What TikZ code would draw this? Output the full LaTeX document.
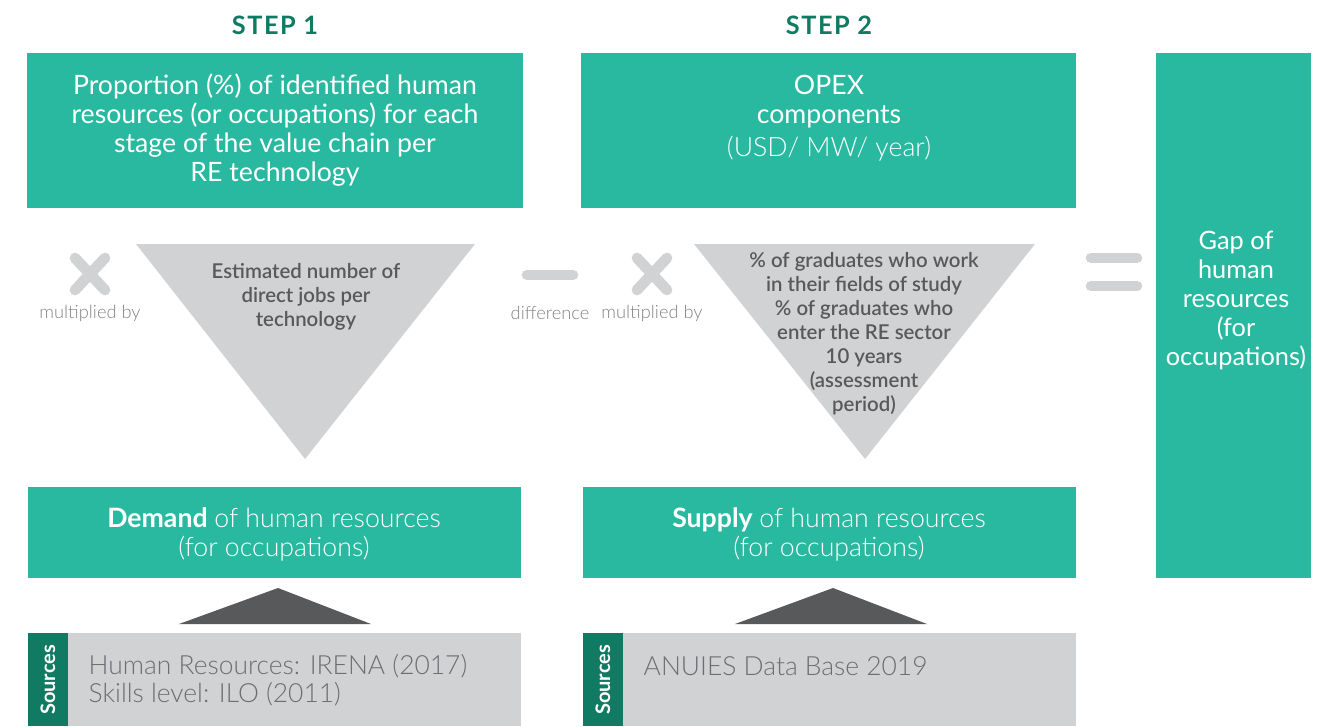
\documentclass[tikz,border=0pt]{standalone}
\usepackage{fontspec}
\setmainfont{Lato}
\newfontfamily\lightfont{Lato Light}
\newfontfamily\semifont{Lato Semibold}
\usetikzlibrary{calc}
\definecolor{boxgreen}{RGB}{41,185,160}
\definecolor{darkgreen}{RGB}{16,122,98}
\definecolor{palegray}{RGB}{209,210,212}
\definecolor{darkgray}{RGB}{88,89,91}
\definecolor{srcgray}{RGB}{109,110,113}
\definecolor{labelgray}{RGB}{128,130,133}

\begin{document}
\begin{tikzpicture}[x=.75pt, y=-.75pt,
  steptitle/.style={text=darkgreen, font=\fontsize{19}{22}\selectfont\bfseries\addfontfeatures{LetterSpace=6}},
  boxtext/.style={text=white, align=center, font=\fontsize{20}{21.75}\selectfont},
  tritext/.style={text=darkgray, align=center, font=\fontsize{15.3}{18}\selectfont\semifont},
  sign/.style={palegray, line width=8pt, line cap=round},
  signlabel/.style={text=labelgray, font=\fontsize{13.7}{15}\selectfont\lightfont},
  srctext/.style={text=srcgray, align=left, font=\fontsize{19.8}{21}\selectfont\lightfont},
  srclabel/.style={text=white, rotate=90, font=\fontsize{15}{17}\selectfont\bfseries}]
\useasboundingbox (0,0) rectangle (1335,726);
\node[steptitle] (step1) at (275,25) {STEP 1};
\node[steptitle] (step2) at (829,25) {STEP 2};
\fill[boxgreen] (27,53) rectangle (523,208);
\fill[boxgreen] (581,53) rectangle (1076,208);
\fill[boxgreen] (1156,53) rectangle (1311,578);
\fill[boxgreen] (28,487) rectangle (521,578);
\fill[boxgreen] (583,487) rectangle (1076,578);
\node[boxtext] (share) at (275,130) {Proportion (\%) of identified human\\resources (or occupations) for each\\stage of the value chain per\\RE technology};
\node[boxtext] (opex) at (829,118) {OPEX\\components\\[3pt]{\lightfont (USD/ MW/ year)}};
\node[boxtext, font=\fontsize{19}{21.75}\selectfont] (gap) at (1236,300) {Gap of\\human\\resources\\(for\\occupations)};
\node[boxtext] (demand) at (274,534) {\textbf{Demand} {\lightfont of human resources}\\{\lightfont (for occupations)}};
\node[boxtext] (supply) at (829,534) {\textbf{Supply} {\lightfont of human resources}\\{\lightfont (for occupations)}};
\fill[palegray] (136,244) -- (475,244) -- (305,459) -- cycle;
\fill[palegray] (694,244) -- (1035,244) -- (865,459) -- cycle;
\node[tritext] (jobs) at (306,297) {Estimated number of\\direct jobs per\\technology};
\node[tritext] (grads) at (864,334) {\% of graduates who work\\in their fields of study\\\% of graduates who\\enter the RE sector\\10 years\\(assessment\\period)};
\foreach \x in {90,652} {
 \draw[sign] (\x-15,258) -- (\x+15,290);
 \draw[sign] (\x-15,290) -- (\x+15,258);
}
\draw[sign] (527,275) -- (573,275);
\foreach \y in {258,286} {
 \draw[sign] (1091,\y) -- (1137,\y);
}
\node[signlabel] (times1) at (90,313) {multiplied by};
\node[signlabel] (minus) at (550,313) {difference};
\node[signlabel] (times2) at (652,313) {multiplied by};
\fill[darkgray] (179,624) -- (278,588) -- (371,624) -- cycle;
\fill[darkgray] (735,624) -- (833,588) -- (927,624) -- cycle;
\fill[palegray] (28,633) rectangle (521,726);
\fill[palegray] (583,633) rectangle (1076,726);
\fill[darkgreen] (28,633) rectangle (68,726);
\fill[darkgreen] (583,633) rectangle (623,726);
\node[srclabel] (src1) at (48,680) {Sources};
\node[srclabel] (src2) at (603,680) {Sources};
\node[srctext, anchor=west] (irena) at (84,680) {Human Resources: IRENA (2017)\\Skills level: ILO (2011)};
\node[srctext, anchor=west] (anuies) at (639,666) {ANUIES Data Base 2019};
\end{tikzpicture}
\end{document}
